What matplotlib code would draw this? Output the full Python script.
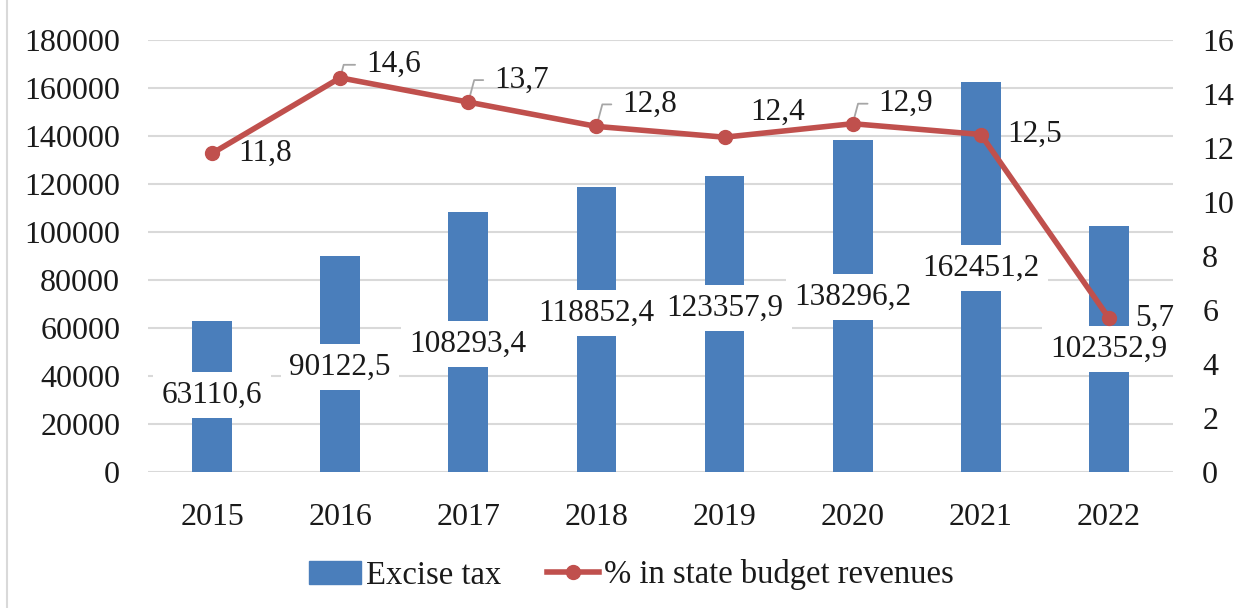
import numpy as np
import matplotlib
matplotlib.use("Agg")
import matplotlib.pyplot as plt
from matplotlib.lines import Line2D

plt.rcParams['font.family'] = ['Liberation Serif', 'DejaVu Serif']

years = ['2015', '2016', '2017', '2018', '2019', '2020', '2021', '2022']
excise = [63110.6, 90122.5, 108293.4, 118852.4, 123357.9, 138296.2, 162451.2, 102352.9]
share = [11.8, 14.6, 13.7, 12.8, 12.4, 12.9, 12.5, 5.7]

excise_txt = ['63110,6', '90122,5', '108293,4', '118852,4', '123357,9', '138296,2', '162451,2', '102352,9']
share_txt = ['11,8', '14,6', '13,7', '12,8', '12,4', '12,9', '12,5', '5,7']

# where the bar labels sit (left axis units) and line label offsets (pixels)
bar_lab_y = [32083, 43750, 53333, 66250, 68333, 72917, 85000, 51250]
line_lab_dy = [0, 13, 22, 22, 25, 20, 0, 0]
leader = [False, True, True, True, False, True, False, False]

bar_col = '#4A7EBB'
line_col = '#C0504D'
txt_col = '#1a1a1a'
grid_col = '#D9D9D9'
fs = 23
fs_lab = 22.5

fig = plt.figure(figsize=(12.44, 6.08), dpi=100)
ax = fig.add_axes([148/1244, 136/608, 1025/1244, 432/608])
ax2 = ax.twinx()

x = np.arange(len(years))
ax.bar(x, excise, width=0.31, color=bar_col, zorder=2)
ax.set_xlim(-0.5, len(years) - 0.5)
ax.set_ylim(0, 180000)
ax.set_yticks(np.arange(0, 180001, 20000))
ax.grid(axis='y', color=grid_col, linewidth=1.5, zorder=0)
ax.set_axisbelow(True)
ax.set_xticks(x)
ax.set_xticklabels(years)

for a in (ax, ax2):
    for s in a.spines.values():
        s.set_visible(False)
    a.tick_params(length=0, labelsize=fs, colors=txt_col)
ax.tick_params(axis='y', pad=20)
ax.tick_params(axis='x', pad=22)
ax2.tick_params(axis='y', pad=21)

for xi, yv, t in zip(x, bar_lab_y, excise_txt):
    ax.text(xi, yv, t, ha='center', va='center', fontsize=fs_lab, color=txt_col, zorder=5,
            bbox=dict(boxstyle='square,pad=0.27', fc='white', ec='none'))

ax2.set_ylim(0, 16)
ax2.set_yticks(np.arange(0, 17, 2))
ax2.plot(x, share, color=line_col, linewidth=4, marker='o', markersize=10, zorder=4)

for xi, v, t, dy, ld in zip(x, share, share_txt, line_lab_dy, leader):
    arrow = None
    if ld:
        arrow = dict(arrowstyle='-', color='#A6A6A6', linewidth=1.3, shrinkA=6, shrinkB=0,
                     relpos=(0, 0.5), connectionstyle='angle,angleA=0,angleB=75,rad=0')
    ax2.annotate(t, xy=(xi, v), xytext=(26, dy), textcoords='offset pixels',
                 ha='left', va='center', fontsize=fs_lab, color=txt_col,
                 arrowprops=arrow, zorder=3)

handles = [plt.Rectangle((0, 0), 1, 1, color=bar_col),
           Line2D([], [], color=line_col, linewidth=4, marker='o', markersize=10)]
fig.legend(handles, ['Excise tax', '% in state budget revenues'], loc='center',
           bbox_to_anchor=(631/1244, 1 - 575/608), ncol=2, frameon=False, fontsize=23.5,
           handlelength=1.6, handletextpad=0.15, columnspacing=1.4, labelcolor=txt_col)

fig.add_artist(Line2D([7/1244, 7/1244], [0, 1], color=grid_col, linewidth=1.5))

fig.savefig('out.png', dpi=100)
